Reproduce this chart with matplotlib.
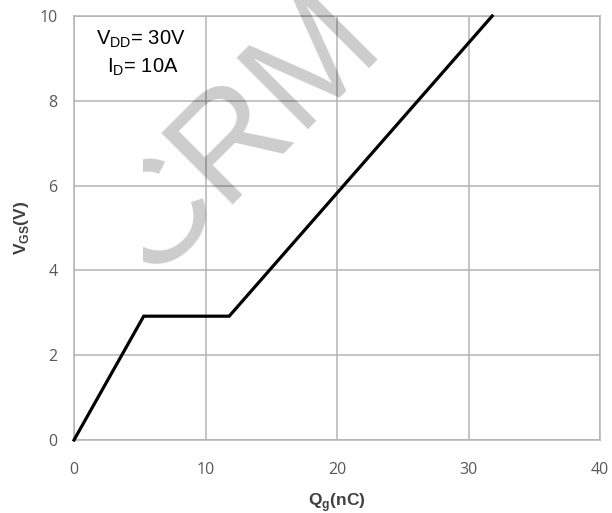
import matplotlib
matplotlib.use("Agg")
import matplotlib.pyplot as plt
from matplotlib.transforms import IdentityTransform
from matplotlib.patches import Rectangle

# Gate charge curve: gate-source voltage versus total gate charge
gate_charge_nc = [0.0, 5.3, 11.8, 31.8]
vgs_volts = [0.0, 2.92, 2.92, 10.0]

x_ticks = [0, 10, 20, 30, 40]
y_ticks = [0, 2, 4, 6, 8, 10]

grid_color = "#b4b4b4"
tick_color = "#595959"
label_color = "#404040"

W, H = 612, 513
fig = plt.figure(figsize=(W / 100, H / 100), dpi=100)
ax = fig.add_axes([74 / W, 1 - 440 / H, 526 / W, 424 / H])

ax.plot(gate_charge_nc, vgs_volts, color="black", lw=2.3, solid_joinstyle="miter",
        clip_on=False, zorder=3)

ax.set_xlim(0, 40)
ax.set_ylim(0, 10)
ax.set_xticks(x_ticks)
ax.set_yticks(y_ticks)
ax.grid(True, color=grid_color, lw=1.1)
ax.set_axisbelow(True)
for s in ax.spines.values():
    s.set_color(grid_color)
    s.set_linewidth(1.1)
ax.tick_params(length=0, colors=tick_color, labelsize=11.5)
for lbl in ax.get_xticklabels() + ax.get_yticklabels():
    lbl.set_fontfamily("Open Sans")
ax.tick_params(axis="x", pad=16)
ax.tick_params(axis="y", pad=12)

ax.set_xlabel(r"Q$_\mathregular{g}$(nC)", fontsize=12.5, fontweight="bold",
              color=label_color, family="Liberation Sans", labelpad=9)
ax.set_ylabel(r"V$_\mathregular{GS}$(V)", fontsize=12.5, fontweight="bold",
              color=label_color, family="Liberation Sans", labelpad=6)

cx = (141 - 74) / 526
ax.text(cx, (440 - 45) / 424, r"V$_\mathregular{DD}$= 30V", transform=ax.transAxes,
        fontsize=14.5, family="Liberation Sans", ha="center", va="baseline")
ax.text(cx + 0.004, (440 - 73) / 424, r"I$_\mathregular{D}$= 10A", transform=ax.transAxes,
        fontsize=14.5, family="Liberation Sans", ha="center", va="baseline")

# Faint diagonal watermark, cut off on its left side
wm = fig.text(148 / W, 1 - 282 / H, "CRM", fontsize=106, family="Liberation Sans",
              color="black", alpha=0.2, rotation=45, rotation_mode="anchor",
              ha="left", va="baseline", zorder=5)
clip = Rectangle((143, 0), W - 143, H, transform=IdentityTransform(),
                 facecolor="none", edgecolor="none")
fig.add_artist(clip)
wm.set_clip_path(clip)

fig.savefig("out.png", dpi=100)
